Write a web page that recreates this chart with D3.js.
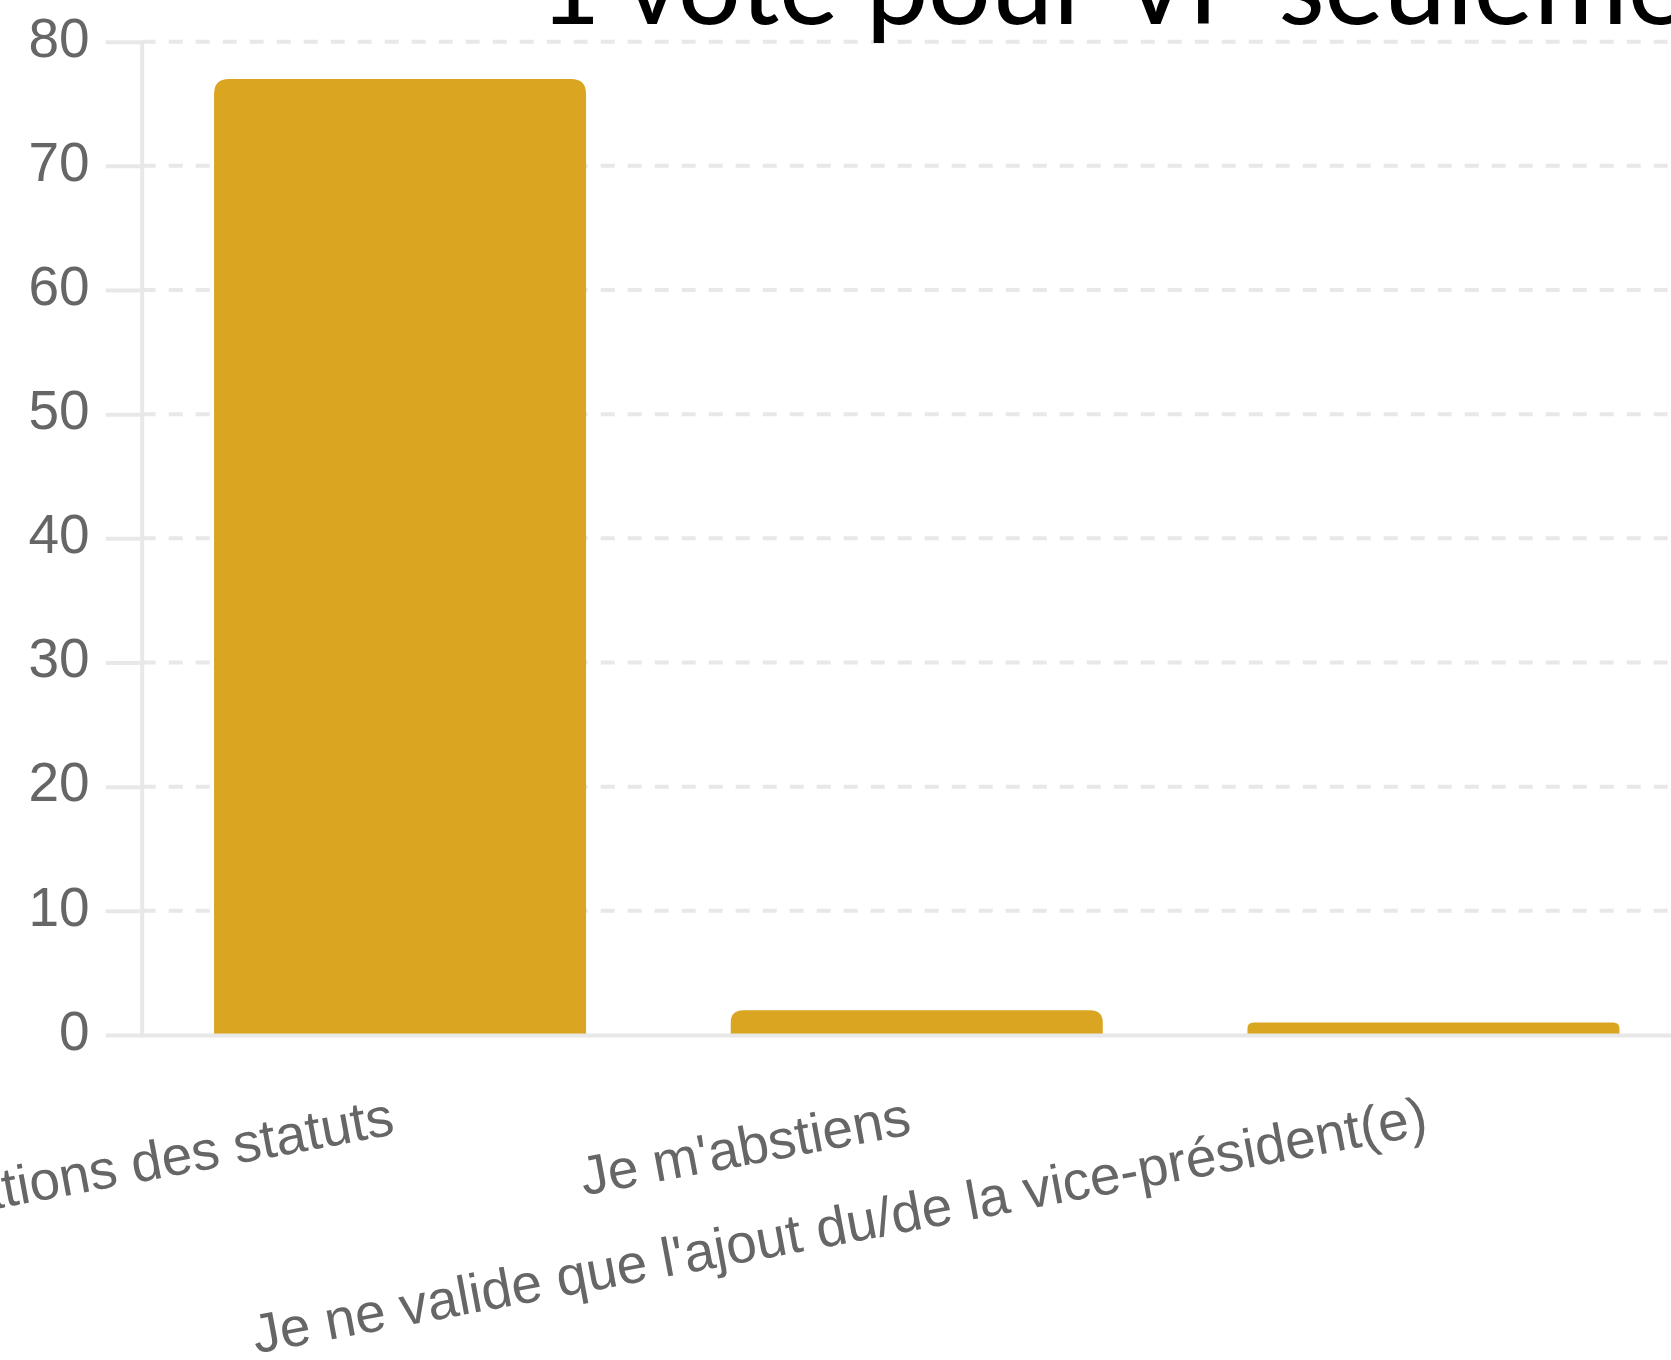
<!DOCTYPE html>
<html>
<head>
<meta charset="utf-8">
<script src="https://cdn.jsdelivr.net/npm/d3@7"></script>
<style>
  html, body { margin: 0; padding: 0; background: #ffffff; }
  svg { display: block; }
</style>
</head>
<body>
<svg id="chart" width="1671" height="1360"></svg>
<script>
// ---- data ----
const categories = [
  "Je valide les modifications des statuts",
  "Je m'abstiens",
  "Je ne valide que l'ajout du/de la vice-président(e)"
];
const values = [77, 2, 1];
const yTicks = [0, 10, 20, 30, 40, 50, 60, 70, 80];
const titleText = "1 vote pour VP seulement";

// ---- layout ----
const W = 1671, H = 1360;
const svg = d3.select("#chart");
const axisX = 141.7;
const baseY = 1035;
const topY = 41.7;

const y = d3.scaleLinear().domain([0, 80]).range([baseY, topY]);
const x = d3.scaleBand().domain(categories)
  .range([axisX, axisX + 3 * 516.7])
  .paddingInner(0.28).paddingOuter(0.14);

const gridColor = "#e8e8e8";
const labelColor = "#666666";
const font = "'Liberation Sans', Arial, sans-serif";

// dashed gridlines
svg.append("g").selectAll("line").data(yTicks.filter(d => d !== 0)).join("line")
  .attr("x1", axisX).attr("x2", W)
  .attr("y1", d => y(d)).attr("y2", d => y(d))
  .attr("stroke", gridColor).attr("stroke-width", 4)
  .attr("stroke-dasharray", "14 13");

// y axis (ticks + labels + domain)
const yAxis = d3.axisLeft(y).tickValues(yTicks).tickSize(36).tickSizeOuter(0).tickPadding(16);
const gy = svg.append("g").attr("transform", `translate(${axisX},0)`).call(yAxis);
gy.select(".domain").attr("stroke", gridColor).attr("stroke-width", 4);
gy.selectAll(".tick line").attr("stroke", gridColor).attr("stroke-width", 4);
gy.selectAll(".tick text")
  .attr("fill", labelColor)
  .style("font-family", font)
  .style("font-size", "55px")
  .attr("dy", "0.26em");

// bars with rounded top corners
function topRounded(x0, y0, w, h, r) {
  r = Math.min(r, h / 2, w / 2);
  return `M${x0},${y0 + h}V${y0 + r}Q${x0},${y0} ${x0 + r},${y0}` +
         `H${x0 + w - r}Q${x0 + w},${y0} ${x0 + w},${y0 + r}V${y0 + h}Z`;
}
svg.append("g").selectAll("path").data(categories).join("path")
  .attr("d", (c, i) => {
    const y0 = y(values[i]);
    return topRounded(x(c), y0, x.bandwidth(), baseY - y0, 15);
  })
  .attr("fill", "#DAA520");

// bottom axis line
svg.append("line")
  .attr("x1", axisX - 2).attr("x2", W)
  .attr("y1", baseY + 0.5).attr("y2", baseY + 0.5)
  .attr("stroke", gridColor).attr("stroke-width", 4);

// x labels (rotated)
svg.append("g").selectAll("text").data(categories).join("text")
  .attr("transform", c => `translate(${x(c) + x.bandwidth() / 2 - 4},${1134}) rotate(-10.6)`)
  .attr("text-anchor", "end")
  .attr("fill", labelColor)
  .style("font-family", font)
  .style("font-size", "55px")
  .text(c => c);

// title (cut at top)
const t = svg.append("text")
  .attr("x", 0).attr("y", 0)
  .attr("fill", "#000")
  .style("font-family", "Carlito, Lato, 'Open Sans', sans-serif")
  .style("font-size", "116px")
  .text(titleText);
const prefixLen = t.node().getSubStringLength(0, 20);
const sx = (1533 - 538) / prefixLen;
t.attr("transform", `translate(538,24) scale(${sx},1)`);
</script>
</body>
</html>
